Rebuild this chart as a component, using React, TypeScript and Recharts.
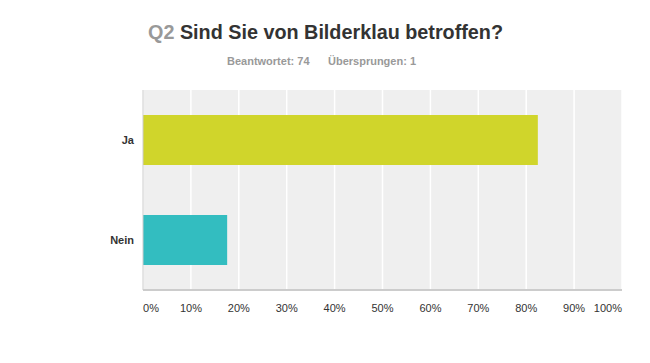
import React from 'react';
import { BarChart, Bar, XAxis, YAxis, CartesianGrid, Cell } from 'recharts';

const categories = ['Ja', 'Nein'];
const percentages = [82.43, 17.57];
const barColors = ['#d0d52b', '#33bdc0'];
const xTicks = [0, 10, 20, 30, 40, 50, 60, 70, 80, 90, 100];

const data = categories.map((name, i) => ({ name, value: percentages[i] }));

const FONT = '"Liberation Sans", Arial, sans-serif';

const XTick = (props: any) => {
  const { x, y, payload } = props;
  const v = payload.value;
  const anchor = v === 0 ? 'start' : v === 100 ? 'end' : 'middle';
  return (
    <text x={x} y={y} dy={3} textAnchor={anchor} fontSize={11} fill="#333" fontFamily={FONT}>
      {v}%
    </text>
  );
};

const YTick = (props: any) => {
  const { y, payload } = props;
  return (
    <text x={134} y={y} dy={4} textAnchor="end" fontSize={11} fontWeight="bold" fill="#333" fontFamily={FONT}>
      {payload.value}
    </text>
  );
};

export default function App() {
  return (
    <div style={{ position: 'absolute', left: 0, top: 0, width: 650, height: 363, background: '#fff' }}>
      <BarChart
        width={650}
        height={363}
        data={data}
        layout="vertical"
        margin={{ top: 90, right: 28, bottom: 0, left: 0 }}
        barCategoryGap="25%"
      >
        <CartesianGrid horizontal={false} vertical={true} stroke="#ffffff" strokeWidth={1.5} fill="#efefef" />
        <XAxis
          type="number"
          domain={[0, 100]}
          ticks={xTicks}
          tick={<XTick />}
          tickLine={false}
          axisLine={{ stroke: '#cccccc', strokeWidth: 2 }}
          height={73}
          tickMargin={13}
          interval={0}
        />
        <YAxis
          type="category"
          dataKey="name"
          width={143}
          tick={<YTick />}
          tickLine={false}
          axisLine={{ stroke: '#cccccc', strokeWidth: 1 }}
        />
        <Bar dataKey="value" barSize={50} isAnimationActive={false}>
          {data.map((d, i) => (
            <Cell key={d.name} fill={barColors[i]} />
          ))}
        </Bar>
      </BarChart>
      <svg width={650} height={80} style={{ position: 'absolute', left: 0, top: 0 }}>
        <text x={148} y={39} fontSize={19.8} fontWeight="bold" fontFamily={FONT}>
          <tspan fill="#999999">Q2 </tspan>
          <tspan fill="#333333">Sind Sie von Bilderklau betroffen?</tspan>
        </text>
        <text x={227} y={65} fontSize={11} fontWeight="bold" fill="#999999" fontFamily={FONT}>
          Beantwortet: 74
        </text>
        <text x={328} y={65} fontSize={11} fontWeight="bold" fill="#999999" fontFamily={FONT}>
          Übersprungen: 1
        </text>
      </svg>
    </div>
  );
}
